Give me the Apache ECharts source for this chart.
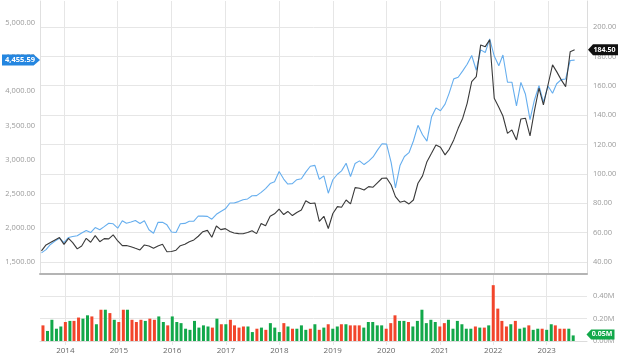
<!DOCTYPE html>
<html><head><meta charset="utf-8">
<script src="https://cdn.jsdelivr.net/npm/echarts@6/dist/echarts.min.js"></script>
<style>html,body{margin:0;padding:0;background:#fff}#c{width:640px;height:360px}</style>
</head><body><div id="c"></div>
<script>
// Monthly observations, Aug 2013 .. Jul 2023
const firstYear = 2013, firstMonth = 7; // August (0-based)
const indexValues = [1632.97,1681.55,1756.54,1805.81,1848.36,
1782.59,1859.45,1872.34,1883.95,1923.57,1960.23,1930.67,2003.37,1972.29,2018.05,2067.56,2058.90,
1994.99,2104.50,2067.89,2085.51,2107.39,2063.11,2103.84,1972.18,1920.03,2079.36,2080.41,2043.94,
1940.24,1932.23,2059.74,2065.30,2096.95,2098.86,2173.60,2170.95,2168.27,2126.15,2198.81,2238.83,
2278.87,2363.64,2362.72,2384.20,2411.80,2423.41,2470.30,2471.65,2519.36,2575.26,2647.58,2673.61,
2823.81,2713.83,2640.87,2648.05,2705.27,2718.37,2816.29,2901.52,2913.98,2711.74,2760.17,2506.85,
2704.10,2784.49,2834.40,2945.83,2752.06,2941.76,2980.38,2926.46,2976.74,3037.56,3140.98,3230.78,
3225.52,2954.22,2584.59,2912.43,3044.31,3100.29,3271.12,3500.31,3363.00,3269.96,3621.63,3756.07,
3714.24,3811.15,3972.89,4181.17,4204.11,4297.50,4395.26,4522.68,4307.54,4605.38,4567.00,4766.18,
4515.55,4373.94,4530.41,4131.93,4132.15,3785.38,4130.29,3955.00,3585.62,3871.98,4080.11,3839.50,
4076.60,3970.15,4109.31,4169.48,4179.83,4450.38,4455.59];
const stockValues = [47.5,51.6,53.2,55.0,56.6,52.0,56.1,53.2,48.9,50.9,
56.1,53.4,57.9,53.8,55.9,55.7,58.4,54.3,51.1,51.2,
50.4,49.3,48.2,51.6,50.9,49.3,50.9,52.0,46.9,47.1,
48.0,51.1,52.0,53.8,55.0,57.5,60.6,61.5,56.8,64.5,
62.0,62.7,60.8,59.7,59.3,59.2,60.0,61.2,59.3,66.2,
64.6,71.1,72.8,76.0,72.3,74.4,71.6,73.7,75.4,81.7,
79.8,80.2,67.6,71.1,62.8,73.0,77.7,77.3,82.2,79.5,
90.6,90.2,89.0,91.3,90.9,94.0,97.0,97.2,92.4,84.5,
80.7,81.5,79.5,82.2,93.6,98.6,108.3,114.0,119.7,118.1,
112.9,116.7,123.1,131.0,137.9,148.0,162.8,166.2,187.8,186.6,
191.2,151.5,145.3,139.4,127.6,129.9,123.1,137.4,137.9,125.8,
143.0,158.3,146.9,160.5,174.2,169.6,164.0,159.4,183.2,184.5];
const volumeM = [0.14,0.09,0.19,0.11,0.13,0.17,0.18,0.18,0.21,0.20,
0.23,0.22,0.15,0.28,0.28,0.25,0.19,0.17,0.28,0.28,
0.19,0.17,0.19,0.18,0.20,0.19,0.22,0.17,0.14,0.22,
0.17,0.16,0.11,0.10,0.18,0.12,0.14,0.13,0.12,0.20,
0.15,0.15,0.19,0.14,0.12,0.13,0.13,0.08,0.11,0.12,
0.10,0.16,0.12,0.08,0.16,0.13,0.11,0.11,0.14,0.10,
0.11,0.15,0.10,0.12,0.15,0.11,0.13,0.15,0.15,0.14,
0.14,0.14,0.12,0.17,0.17,0.14,0.14,0.11,0.16,0.23,
0.18,0.18,0.17,0.13,0.18,0.28,0.16,0.19,0.17,0.13,
0.16,0.19,0.11,0.18,0.15,0.11,0.11,0.13,0.12,0.12,
0.14,0.50,0.29,0.18,0.13,0.15,0.18,0.11,0.12,0.14,
0.10,0.11,0.11,0.10,0.15,0.14,0.11,0.11,0.11,0.05];
const volumeDir = ('rggggrgrrg'+'grgrgrgrrg'+'rrrgrrggrg'+'ggggggggrg'+'rgrrrrggrg'+
'rgggrgrggg'+'rgrgrggrgr'+'rrgggggrrr'+'ggrggggggr'+'rggggggrgr'+'grrrrgrggr'+'ggrggrrrgg').split('');
const leftTicks = [1500,2000,2500,3000,3500,4000,4500,5000];
const rightTicks = [40,60,80,100,120,140,160,180,200];
const years = [2014,2015,2016,2017,2018,2019,2020,2021,2022,2023];

const dates = indexValues.map((_, i) => new Date(firstYear, firstMonth + i, 1).getTime());
const xMin = new Date(2013, 6, 22).getTime();
const xMax = new Date(2023, 8, 23).getTime();
const yearTs = years.map(y => new Date(y, 0, 1).getTime());

const BLUE = '#66aeee', BLACK = '#3a3a3a', RED = '#f2452b', GREEN = '#12a84a';
const FONT = 'Open Sans';
const fmt2 = v => v.toLocaleString('en-US', {minimumFractionDigits: 2, maximumFractionDigits: 2});
const lastIdx = indexValues.length - 1;
const tagRight = 'path://M0,5L5,0L30,0L30,10L5,10Z';
const tagLeft = 'path://M0,0L25,0L30,5L25,10L0,10Z';
const gridColor = '#e6e6e6';

const option = {
  animation: false,
  backgroundColor: '#fff',
  grid: [
    {left: 40, right: 53, top: 1, height: 273},
    {left: 40, right: 53, top: 274, height: 67}
  ],
  xAxis: [
    {type: 'time', gridIndex: 0, min: xMin, max: xMax,
     axisLabel: {show: false},
     axisTick: {show: false, customValues: yearTs},
     axisLine: {show: true, lineStyle: {color: '#b4b4b4', width: 2}},
     splitLine: {show: true, lineStyle: {color: gridColor, width: 1}}},
    {type: 'time', gridIndex: 1, min: xMin, max: xMax,
     axisLabel: {show: true, customValues: yearTs, formatter: '{yyyy}', color: '#666', fontSize: 8, fontFamily: FONT, margin: 6},
     axisTick: {show: true, customValues: yearTs, length: 4, lineStyle: {color: gridColor}},
     axisLine: {show: true, lineStyle: {color: '#dcdcdc', width: 1}},
     splitLine: {show: true, lineStyle: {color: gridColor, width: 1}}}
  ],
  yAxis: [
    {type: 'value', gridIndex: 0, position: 'left', min: 1324.3, max: 5321,
     axisLabel: {customValues: leftTicks, formatter: fmt2, color: '#9a9a9a', fontSize: 7.5, fontFamily: FONT, margin: 5},
     axisTick: {show: false, customValues: leftTicks},
     axisLine: {show: true, lineStyle: {color: '#e0e0e0'}},
     splitLine: {show: false}},
    {type: 'value', gridIndex: 0, position: 'right', min: 31.8, max: 217.7,
     axisLabel: {customValues: rightTicks, formatter: v => v.toFixed(2), color: '#9a9a9a', fontSize: 7.5, fontFamily: FONT, margin: 6},
     axisTick: {show: false, customValues: rightTicks},
     axisLine: {show: true, lineStyle: {color: '#dcdcdc'}},
     splitLine: {show: true, lineStyle: {color: gridColor, width: 1}}},
    {type: 'value', gridIndex: 1, position: 'right', min: 0, max: 0.6, interval: 0.2,
     axisLabel: {showMaxLabel: false, formatter: v => v.toFixed(2) + 'M', color: '#9a9a9a', fontSize: 7.5, fontFamily: FONT, margin: 6},
     axisTick: {show: false},
     axisLine: {show: false},
     splitLine: {show: true, lineStyle: {color: gridColor, width: 1}}}
  ],
  series: [
    {type: 'line', name: 'index', xAxisIndex: 0, yAxisIndex: 0, showSymbol: false, z: 3,
     data: dates.map((d, i) => [d, indexValues[i]]),
     lineStyle: {color: BLUE, width: 1.1}, itemStyle: {color: BLUE},
     markPoint: {symbol: tagLeft, symbolSize: [38, 11], symbolOffset: [-19, 0], z: 10,
       data: [{coord: [xMin, indexValues[lastIdx]], value: indexValues[lastIdx]}],
       itemStyle: {color: '#2486e0'},
       label: {show: true, position: 'inside', formatter: p => fmt2(p.value), color: '#fff', fontSize: 7.5, fontWeight: 'bold', fontFamily: FONT, offset: [-1, 0]}}},
    {type: 'line', name: 'stock', xAxisIndex: 0, yAxisIndex: 1, showSymbol: false, z: 4,
     data: dates.map((d, i) => [d, stockValues[i]]),
     lineStyle: {color: BLACK, width: 1.1}, itemStyle: {color: BLACK},
     markPoint: {symbol: tagRight, symbolSize: [30, 11], symbolOffset: [16, 0], z: 10,
       data: [{coord: [xMax, stockValues[lastIdx]], value: stockValues[lastIdx]}],
       itemStyle: {color: '#111'},
       label: {show: true, position: 'inside', formatter: p => p.value.toFixed(2), color: '#fff', fontSize: 7, fontWeight: 'bold', fontFamily: FONT, offset: [1.5, 0]}}},
    {type: 'bar', name: 'volume', xAxisIndex: 1, yAxisIndex: 2, barWidth: 3,
     data: dates.map((d, i) => ({value: [d, volumeM[i]], itemStyle: {color: volumeDir[i] === 'r' ? RED : GREEN}})),
     markPoint: {symbol: tagRight, symbolSize: [28, 10], symbolOffset: [15, -1], z: 10,
       data: [{coord: [xMax, volumeM[lastIdx]], value: volumeM[lastIdx]}],
       itemStyle: {color: GREEN},
       label: {show: true, position: 'inside', formatter: p => p.value.toFixed(2) + 'M', color: '#fff', fontSize: 7, fontWeight: 'bold', fontFamily: FONT, offset: [1.5, 0]}}}
  ]
};
const chart = echarts.init(document.getElementById('c'));
chart.setOption(option);
</script></body></html>
